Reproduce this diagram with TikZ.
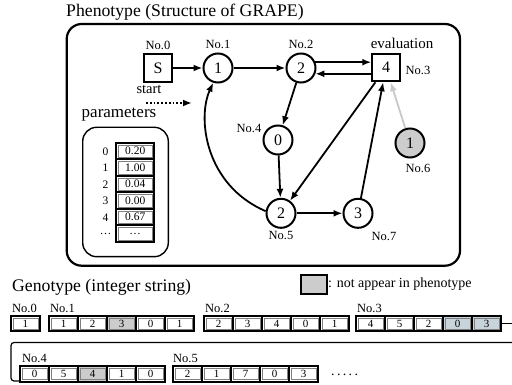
\documentclass[tikz,border=0pt]{standalone}
\usepackage{fontspec}
\setmainfont{Liberation Serif}
\usetikzlibrary{arrows.meta}
\definecolor{cellgray}{RGB}{204,204,204}
\definecolor{cellblue}{RGB}{200,212,220}
\definecolor{arrgray}{RGB}{200,200,200}
\begin{document}
\begin{tikzpicture}[x=1pt,y=-1pt,
  lab/.style={font=\fontsize{12.5}{14}\selectfont, inner sep=0pt},
  big/.style={font=\fontsize{17.7}{20}\selectfont, inner sep=0pt},
  cnode/.style={circle, draw, line width=2pt, minimum size=29pt, inner sep=0pt, font=\fontsize{16}{18}\selectfont, fill=white},
  snode/.style={rectangle, draw, line width=2pt, minimum size=27.5pt, inner sep=0pt, font=\fontsize{16}{18}\selectfont, fill=white},
  edge/.style={line width=1.8pt, -{Latex[length=9pt,width=7pt]}},
  innerframe/.style={path picture={\draw[black!50, line width=0.45pt] ([shift={(2.1pt,2.1pt)}]path picture bounding box.south west) rectangle ([shift={(-2.1pt,-2.1pt)}]path picture bounding box.north east);}},
  cell/.style={rectangle, draw, line width=2pt, minimum width=29pt, minimum height=15.5pt, inner sep=0pt, font=\fontsize{11}{12}\selectfont, innerframe},
  pcell/.style={rectangle, draw, line width=2pt, minimum width=37.5pt, minimum height=16.5pt, inner sep=0pt, font=\fontsize{11.5}{12}\selectfont, innerframe},
  cw/.style={fill=white},
  cg/.style={fill=cellgray},
  cb/.style={fill=cellblue}
]
\useasboundingbox (0,0) rectangle (512,385);

% ---------- Phenotype ----------
\node[big, anchor=west] (ptitle) at (66,12) {Phenotype (Structure of GRAPE)};
\draw[line width=2.2pt, rounded corners=15pt] (66.7,24) rectangle (460,265.7);

% graph nodes
\node[snode] (S) at (158,68) {S};
\node[cnode] (n1) at (218,68) {1};
\node[cnode] (n2) at (301,68) {2};
\node[snode] (ev) at (386,67.5) {4};
\node[cnode] (n0) at (278,140) {0};
\node[cnode] (n5) at (281,213.3) {2};
\node[cnode] (n7) at (358,213.3) {3};
\node[cnode, fill=cellgray] (n6) at (410,143) {1};

% labels
\node[lab] (l0) at (158,45) {No.0};
\node[lab] (l1) at (218,44) {No.1};
\node[lab] (l2) at (301,44) {No.2};
\node[font=\fontsize{15}{17}\selectfont, inner sep=0pt] (leval) at (402,43) {evaluation};
\node[lab] (l3) at (418,70) {No.3};
\node[lab] (l4) at (249,128) {No.4};
\node[lab] (l5) at (281,235) {No.5};
\node[lab] (l6) at (418,168) {No.6};
\node[lab] (l7) at (384,236) {No.7};
\node[font=\fontsize{14.5}{16}\selectfont, inner sep=0pt] (lstart) at (149,89) {start};

% edges
\draw[edge] (S) -- (n1);
\draw[edge] (n1) -- (n2);
\draw[edge] (n2.22) -- (n2.22 -| ev.west);
\draw[edge] (ev.west |- n2.-22) -- (n2.-22);
\draw[edge] (n2) -- (n0);
\draw[edge] (n0) -- (n5);
\draw[edge] (ev) -- (n5);
\draw[edge] (n5) -- (n7);
\draw[edge] (n7) -- (ev);
\draw[edge, draw=arrgray, -{Latex[length=9pt,width=7pt,fill=arrgray]}] (n6) -- (ev);
\draw[edge] (n5.172) .. controls (205,185) and (197,118) .. (n1.252);

% start arrow
\coordinate (st0) at (146,103);
\coordinate (st1) at (192,103);
\draw[line width=1.8pt, dotted, -{Latex[length=9pt,width=7pt]}] (st0) -- (st1);

% parameters
\node[font=\fontsize{17}{19}\selectfont, inner sep=0pt] (ptxt) at (119,115) {parameters};
\draw[line width=1.4pt, rounded corners=14pt] (82.7,127.3) rectangle (168.3,256.7);
\foreach \v/\k [count=\i from 0] in {0.20/0,1.00/1,0.04/2,0.00/3,0.67/4,\dots/\dots}{
  \node[pcell] (p\i) at (135.2,{151.25+16.5*\i}) {\v};
  \node[font=\fontsize{11.5}{12}\selectfont, inner sep=0pt] (pk\i) at (105.5,{151.25+16.5*\i}) {\k};
}

% ---------- Genotype ----------
\node[big, anchor=west] (gtitle) at (12,287) {Genotype (integer string)};
\node[rectangle, draw, line width=2pt, fill=cellgray, minimum width=26pt, minimum height=19pt, inner sep=0pt] (leg) at (314,284.5) {};
\node[font=\fontsize{14}{16}\selectfont, inner sep=0pt, anchor=west] (legt) at (328,284.5) {: not appear in phenotype};

% row 1
\node[cell,cw] (a1) at (25.5,323.5) {1};
\foreach \v/\s [count=\i] in {1/cw,2/cw,3/cg,0/cw,1/cw}
  \node[cell,\s] (b\i) at ({49+14.5+29*(\i-1)},323.5) {\v};
\foreach \v/\s [count=\i] in {2/cw,3/cw,4/cw,0/cw,1/cw}
  \node[cell,\s] (c\i) at ({204+14.5+29*(\i-1)},323.5) {\v};
\foreach \v/\s [count=\i] in {4/cw,5/cw,2/cw,0/cb,3/cb}
  \node[cell,\s] (d\i) at ({356+14.5+29*(\i-1)},323.5) {\v};
% row 2
\foreach \v/\s [count=\i] in {0/cw,5/cw,4/cg,1/cw,0/cw}
  \node[cell,\s] (e\i) at ({20+14.5+29*(\i-1)},374) {\v};
\foreach \v/\s [count=\i] in {2/cw,1/cw,7/cw,0/cw,3/cw}
  \node[cell,\s] (f\i) at ({173+14.5+29*(\i-1)},374) {\v};

\node[lab, anchor=west] (g0) at (12,308) {No.0};
\node[lab, anchor=west] (g1) at (50,308) {No.1};
\node[lab, anchor=west] (g2) at (205,308) {No.2};
\node[lab, anchor=west] (g3) at (357,308) {No.3};
\node[lab, anchor=west] (g4) at (22,358) {No.4};
\node[lab, anchor=west] (g5) at (173,358) {No.5};

\node[font=\fontsize{14}{16}\selectfont, inner sep=0pt, anchor=west] (dots) at (331,375) {.\,.\,.\,.\,.};

% wrap connector
\coordinate (r1) at (512,323.5);
\coordinate (r2) at (512,342.5);
\coordinate (k1) at (11,342.5);
\coordinate (k2) at (11,381);
\draw[line width=1.2pt] (d5.east) -- (r1);
\draw[line width=1.2pt, rounded corners=3pt] (r2) -- (k1) -- (k2) -- (k2 -| e1.west);
\end{tikzpicture}
\end{document}
